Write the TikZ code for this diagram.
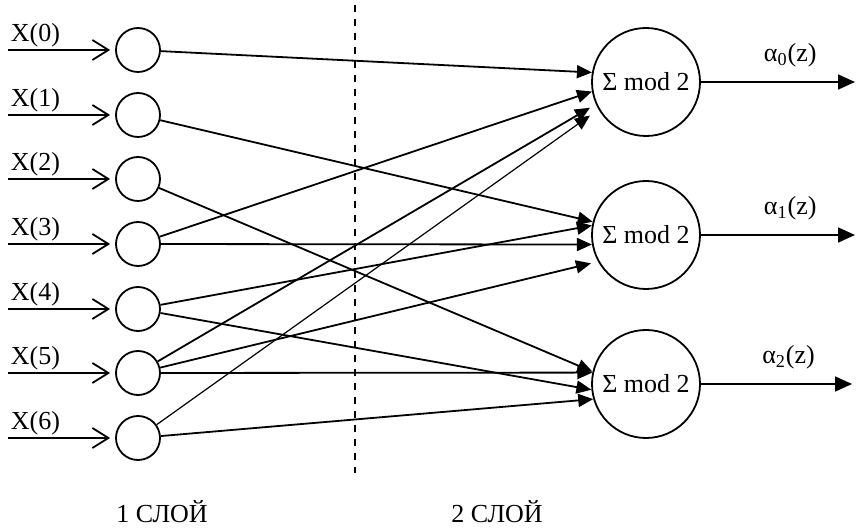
\documentclass[tikz,border=0pt]{standalone}
\usepackage{fontspec}
\setmainfont{Liberation Serif}
\usetikzlibrary{arrows.meta}

\begin{document}
\begin{tikzpicture}[x=0.5pt,y=-0.5pt,font=\fontsize{13}{15}\selectfont,line width=0.9pt,
  inp/.style={-{Straight Barb[length=8pt,width=10pt]},shorten >=2.5pt},
  conn/.style={-{Triangle[length=7.5pt,width=6.5pt]}},
  outp/.style={-{Triangle[length=8.5pt,width=7.5pt]}}]
\useasboundingbox (0,0) rectangle (859,529);

\node[draw, circle, minimum size=22pt, inner sep=0pt] (x0) at (138,50) {};
\node[draw, circle, minimum size=22pt, inner sep=0pt] (x1) at (138,115) {};
\node[draw, circle, minimum size=22pt, inner sep=0pt] (x2) at (138,179) {};
\node[draw, circle, minimum size=22pt, inner sep=0pt] (x3) at (138,244) {};
\node[draw, circle, minimum size=22pt, inner sep=0pt] (x4) at (138,309) {};
\node[draw, circle, minimum size=22pt, inner sep=0pt] (x5) at (138,373) {};
\node[draw, circle, minimum size=22pt, inner sep=0pt] (x6) at (138,438) {};

\node[draw, circle, minimum size=54pt, inner sep=0pt] (s0) at (646,82) {Σ mod 2};
\node[draw, circle, minimum size=54pt, inner sep=0pt] (s1) at (646,235) {Σ mod 2};
\node[draw, circle, minimum size=54pt, inner sep=0pt] (s2) at (646,384) {Σ mod 2};

\coordinate (i0) at (8,50);
\coordinate (i1) at (8,115);
\coordinate (i2) at (8,179);
\coordinate (i3) at (8,244);
\coordinate (i4) at (8,309);
\coordinate (i5) at (8,373);
\coordinate (i6) at (8,438);

\path[draw,inp] (i0) -- node[pos=0,anchor=south west,inner sep=1pt] (t0) {X(0)} (x0);
\path[draw,inp] (i1) -- node[pos=0,anchor=south west,inner sep=1pt] (t1) {X(1)} (x1);
\path[draw,inp] (i2) -- node[pos=0,anchor=south west,inner sep=1pt] (t2) {X(2)} (x2);
\path[draw,inp] (i3) -- node[pos=0,anchor=south west,inner sep=1pt] (t3) {X(3)} (x3);
\path[draw,inp] (i4) -- node[pos=0,anchor=south west,inner sep=1pt] (t4) {X(4)} (x4);
\path[draw,inp] (i5) -- node[pos=0,anchor=south west,inner sep=1pt] (t5) {X(5)} (x5);
\path[draw,inp] (i6) -- node[pos=0,anchor=south west,inner sep=1pt] (t6) {X(6)} (x6);

\path[draw,conn] (x0) -- (s0.170);
\path[draw,conn] (x3) -- (s0.190);
\path[draw,conn,shorten >=3.4pt] (x5) -- (s0.204);
\path[draw,conn,line width=0.6pt,shorten >=5.2pt] (x6) -- (s0.210);

\path[draw,conn] (x1) -- (s1.166);
\path[draw,conn] (x4) -- (s1.170);
\path[draw,conn] (x3) -- (s1.190);
\path[draw,conn,shorten >=3.6pt] (x5) -- (s1.209);

\path[draw,conn] (x2) -- (s2.167);
\path[draw,conn] (x5) -- (s2.168);
\path[draw,conn] (x4) -- (s2.186);
\path[draw,conn] (x6) -- (s2.196);

\coordinate (o0) at (855,82);
\coordinate (o1) at (855,235);
\coordinate (o2) at (852,384);

\path[draw,outp] (s0) -- node[pos=0.58,above=6pt,inner sep=1pt] (a0) {α\textsubscript{0}(z)} (o0);
\path[draw,outp] (s1) -- node[pos=0.58,above=6pt,inner sep=1pt] (a1) {α\textsubscript{1}(z)} (o1);
\path[draw,outp] (s2) -- node[pos=0.58,above=6pt,inner sep=1pt] (a2) {α\textsubscript{2}(z)} (o2);

\coordinate (d1) at (355,5);
\coordinate (d2) at (355,473);
\path[draw,dash pattern=on 3.5pt off 3.5pt] (d1) -- (d2);

\node (l1) at (162,512) {1 СЛОЙ};
\node (l2) at (497,512) {2 СЛОЙ};
\end{tikzpicture}
\end{document}
